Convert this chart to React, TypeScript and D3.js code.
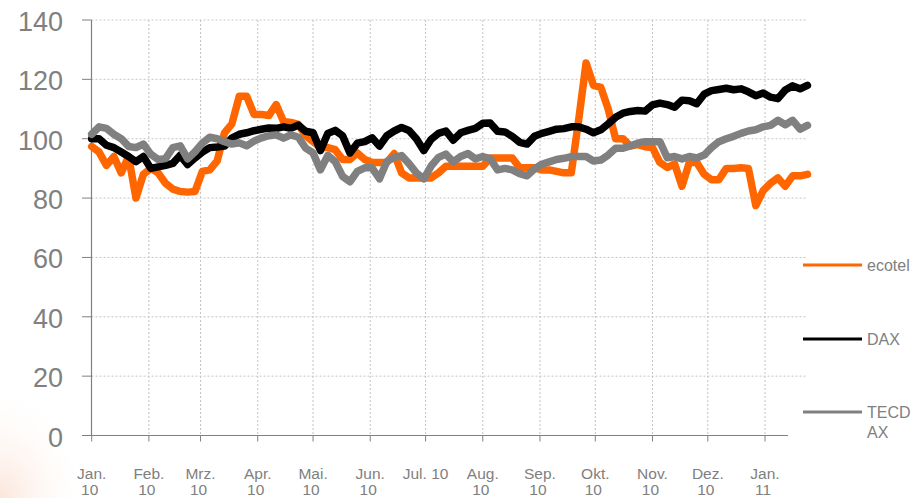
import * as d3 from 'd3';

// Werte alle 4 Tage ab 1.1.2010, indexiert (Start = 100)
const ecotel = [
  97.4, 95.5, 91, 94, 88.5, 94, 80, 88, 90, 88.5,
  85, 83, 82.2, 82, 82.2, 89, 89.5, 92.5, 102, 105,
  114.3, 114.3, 108.2, 108.2, 107.8, 111.5, 105.8, 105.5, 104.8, 101,
  99, 97, 97, 96.3, 93, 93, 95.2, 93, 92, 92,
  92, 95, 88.5, 86.8, 86.8, 86.8, 86.8, 88.5, 90.7, 90.7,
  90.7, 90.7, 90.7, 90.7, 93.5, 93.5, 93.5, 93.5, 90.2, 90.2,
  90.2, 89.5, 89.5, 89, 88.5, 88.5, 106.4, 125.5, 118, 117.3,
  110, 100, 100, 97.5, 98, 97.3, 97, 92, 90.3, 91.5,
  84, 92, 92, 88, 86.2, 86.2, 90, 90, 90.2, 90,
  77.5, 82.5, 85, 86.8, 84, 87.5, 87.5, 88,
];

const dax = [
  100, 100, 97.8, 97, 95.5, 94, 92.3, 94, 90, 90.5,
  91, 91.7, 94.4, 91.3, 93.5, 95.5, 97, 97.2, 97.5, 100.2,
  101.5, 102, 102.7, 103.2, 103.6, 103.5, 104, 103.5, 104.6, 102.5,
  102, 96, 101.8, 102.8, 101, 95.2, 98.5, 99, 100.3, 97.5,
  101, 102.6, 103.8, 102.8, 100, 96, 99.8, 101.8, 102.6, 99.5,
  102, 102.8, 103.5, 105.2, 105.3, 102.5, 102.3, 100.8, 98.8, 98.2,
  100.8, 101.8, 102.5, 103.2, 103.4, 104, 104, 103.2, 102, 103,
  105, 107.2, 108.6, 109.2, 109.5, 109.3, 111.4, 112, 111.5, 110.6,
  113, 112.8, 111.8, 115, 116.2, 116.6, 117, 116.5, 116.8, 115.8,
  114.5, 115.4, 114, 113.5, 116.4, 117.8, 116.8, 118,
];

const tecdax = [
  101.5, 104, 103.5, 101.5, 100, 97.4, 97, 98.2, 94.8, 93,
  93.3, 97, 97.6, 93.2, 95.6, 98.5, 100.5, 100, 99, 98.2,
  98.6, 97.6, 99.2, 100.3, 101, 101.3, 100.2, 101.3, 100.5, 96.8,
  95.2, 89.5, 94.4, 92.3, 87.3, 85.5, 89, 90.2, 90.2, 86.5,
  92.3, 93.7, 94.3, 91.6, 88.5, 86.5, 90.8, 93.7, 94.8, 92.2,
  94, 95, 93.2, 94, 93.3, 89.5, 90, 89.5, 88.2, 87.5,
  89.8, 91.4, 92.2, 93, 93.4, 94, 94, 94, 92.5, 92.8,
  94.5, 96.8, 96.8, 97.6, 98.5, 99, 99, 99, 93.6, 94,
  93.2, 94, 93.5, 94.5, 97, 99, 100, 100.8, 101.8, 102.6,
  103, 104, 104.5, 106.2, 104.7, 106.2, 103.2, 104.5,
];

const seriesNames = ['ecotel', 'DAX', 'TECDAX'];
const seriesColors = ['#ff6600', '#000000', '#808080'];
const monthLabels = ['Jan.', 'Feb.', 'Mrz.', 'Apr.', 'Mai.', 'Jun.', 'Jul. 10', 'Aug.', 'Sep.', 'Okt.', 'Nov.', 'Dez.', 'Jan.'];
const yearLabels = ['10', '10', '10', '10', '10', '10', '', '10', '10', '10', '10', '10', '11'];
const yTicks = [0, 20, 40, 60, 80, 100, 120, 140];

const W = 916;
const H = 498;
const start = new Date(2010, 0, 1);
const dayStep = 4;
const font = '"Liberation Sans", Arial, sans-serif';
const gray = '#808080';

export default function App() {
  const x = d3.scaleTime()
    .domain([start, new Date(2011, 0, 1)])
    .range([91.7, 765]);
  const y = d3.scaleLinear().domain([0, 140]).range([435.5, 20]);

  const plotLeft = 91.5;
  const plotRight = x(d3.timeDay.offset(start, 97 * dayStep));
  const axisRight = 788;

  const monthTicks = d3.timeMonth.range(start, new Date(2011, 0, 2));

  const line = d3.line<number>()
    .x((_, i) => x(d3.timeDay.offset(start, i * dayStep)))
    .y(d => y(d));

  const allSeries = [ecotel, dax, tecdax];
  const legendY = [265, 339, 412];

  return (
    <>
      <style>{'body{margin:0}'}</style>
      <svg width={W} height={H} style={{ display: 'block' }}>
        <defs>
          <radialGradient id="glow" cx="0" cy="1" r="1">
            <stop offset="0" stopColor="#fbe3d6" stopOpacity={0.9} />
            <stop offset="1" stopColor="#ffffff" stopOpacity={0} />
          </radialGradient>
        </defs>
        <rect width={W} height={H} fill="#fff" />
        <rect x={0} y={380} width={90} height={118} fill="url(#glow)" />

        {/* Gitternetz */}
        {yTicks.filter(t => t > 0).map(t => (
          <line key={'h' + t} x1={plotLeft} x2={plotRight} y1={y(t)} y2={y(t)}
            stroke="#c4c4c4" strokeWidth={1} strokeDasharray="2 2" />
        ))}
        {monthTicks.slice(1).map(d => (
          <line key={'v' + d.getTime()} x1={x(d)} x2={x(d)} y1={y(140)} y2={y(0)}
            stroke="#c4c4c4" strokeWidth={1} strokeDasharray="2 2" />
        ))}

        {/* Achsen */}
        <line x1={plotLeft} x2={plotLeft} y1={y(140)} y2={y(0)} stroke={gray} strokeWidth={1.2} />
        <line x1={82} x2={axisRight} y1={y(0)} y2={y(0)} stroke={gray} strokeWidth={1.2} />
        {yTicks.map(t => (
          <g key={'yt' + t}>
            <line x1={82} x2={plotLeft} y1={y(t)} y2={y(t)} stroke={gray} strokeWidth={1} />
            <text x={63} y={y(t) + 11} textAnchor="end" fontFamily={font} fontSize={27} fill={gray}>{t}</text>
          </g>
        ))}
        {monthTicks.map((d, i) => (
          <g key={'xt' + i}>
            <line x1={x(d)} x2={x(d)} y1={y(0)} y2={y(0) + 6} stroke={gray} strokeWidth={1} />
            <text x={x(d)} y={479} textAnchor="middle" fontFamily={font} fontSize={15.5} fill={gray}>{monthLabels[i]}</text>
            <text x={x(d) - 2} y={495} textAnchor="middle" fontFamily={font} fontSize={15.5} fill={gray}>{yearLabels[i]}</text>
          </g>
        ))}

        {/* Linien */}
        {allSeries.map((s, k) => (
          <path key={seriesNames[k]} d={line(s) || ''} fill="none" stroke={seriesColors[k]}
            strokeWidth={7.5} strokeLinejoin="round" strokeLinecap="round" />
        ))}

        {/* Legende */}
        {seriesNames.map((n, k) => (
          <g key={'lg' + n}>
            <line x1={803} x2={862} y1={legendY[k]} y2={legendY[k]} stroke={seriesColors[k]} strokeWidth={3} />
            {n === 'TECDAX' ? (
              <text fontFamily={font} fontSize={16} fill={gray}>
                <tspan x={867} y={legendY[k] + 6}>TECD</tspan>
                <tspan x={867} y={legendY[k] + 26}>AX</tspan>
              </text>
            ) : (
              <text x={867} y={legendY[k] + 6} fontFamily={font} fontSize={16} fill={gray}>{n}</text>
            )}
          </g>
        ))}
      </svg>
    </>
  );
}
